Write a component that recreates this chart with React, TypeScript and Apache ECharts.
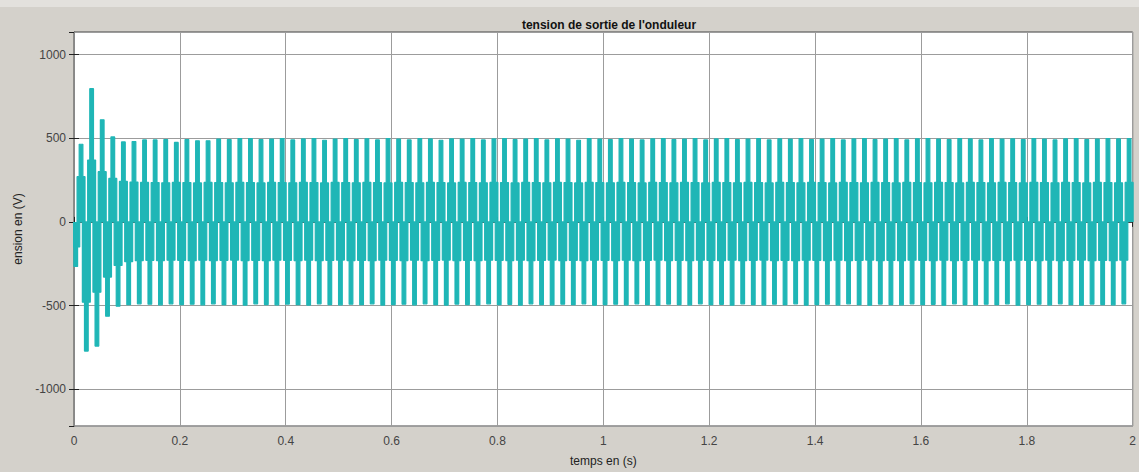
import React, { useEffect, useRef } from "react";
import * as echarts from "echarts";

// Waveform: one positive and one negative pulse per 50 Hz cycle
const period = 0.02; // s
const posCenterStart = 0.0133; // s, centre of first positive pulse
const negCenterStart = 0.0033; // s, centre of first negative pulse

const posPeaks = [
  464, 796, 610, 508, 478, 480, 490, 490, 492, 475,
  492, 485, 485, 495, 492, 498, 498, 492, 495, 498,
  490, 496, 498, 488, 495, 498, 492, 497, 490, 498,
  495, 490, 498, 496, 488, 497, 495, 498, 490, 496,
  498, 492, 495, 498, 490, 497, 495, 488, 498, 495,
  492, 498, 495, 490, 497, 498, 492, 495, 498, 490,
  496, 498, 492, 495, 498, 490, 497, 495, 498, 492,
  495, 498, 490, 496, 498, 492, 495, 498, 490, 497,
  498, 495, 492, 498, 496, 490, 498, 495, 497, 492,
  498, 495, 490, 497, 498, 492, 495, 498, 496, 498,
];
const posInner = [
  270, 370, 300, 260, 242, 238, 236, 235, 234, 236,
  235, 233, 236, 235, 234, 236, 235, 233, 236, 235,
  234, 236, 235, 233, 236, 235, 234, 236, 235, 233,
  236, 235, 234, 236, 235, 233, 236, 235, 234, 236,
  235, 233, 236, 235, 234, 236, 235, 233, 236, 235,
  234, 236, 235, 233, 236, 235, 234, 236, 235, 233,
  236, 235, 234, 236, 235, 233, 236, 235, 234, 236,
  235, 233, 236, 235, 234, 236, 235, 233, 236, 235,
  234, 236, 235, 233, 236, 235, 234, 236, 235, 233,
  236, 235, 234, 236, 235, 233, 236, 235, 234, 236,
];
const negPeaks = [
  -266, -772, -742, -564, -504, -495, -490, -492, -496, -490,
  -494, -492, -496, -490, -495, -493, -497, -490, -494, -496,
  -491, -495, -497, -490, -494, -496, -492, -495, -490, -497,
  -494, -492, -496, -490, -495, -497, -491, -494, -496, -490,
  -495, -493, -497, -490, -494, -496, -492, -495, -490, -497,
  -494, -492, -496, -490, -495, -497, -491, -494, -496, -490,
  -495, -493, -497, -490, -494, -496, -492, -495, -490, -497,
  -494, -492, -496, -490, -495, -497, -491, -494, -496, -490,
  -495, -493, -497, -490, -494, -496, -492, -495, -490, -497,
  -494, -492, -496, -490, -495, -497, -491, -494, -496, -490,
];
const negInner = [
  -150, -480, -420, -330, -260, -238, -232, -230, -231, -229,
  -230, -232, -229, -231, -230, -228, -231, -230, -232, -229,
  -230, -231, -229, -232, -230, -228, -231, -230, -232, -229,
  -230, -231, -229, -232, -230, -228, -231, -230, -232, -229,
  -230, -231, -229, -232, -230, -228, -231, -230, -232, -229,
  -230, -231, -229, -232, -230, -228, -231, -230, -232, -229,
  -230, -231, -229, -232, -230, -228, -231, -230, -232, -229,
  -230, -231, -229, -232, -230, -228, -231, -230, -232, -229,
  -230, -231, -229, -232, -230, -228, -231, -230, -232, -229,
  -230, -231, -229, -232, -230, -228, -231, -230, -232, -229,
];

const xTickLabels = ["0", "0.2", "0.4", "0.6", "0.8", "1", "1.2", "1.4", "1.6", "1.8", "2"];
const yTickLabels: Record<string, string> = { "-1000": "-1000", "-500": "-500", "0": "0", "500": "500", "1000": "1000" };

const CYAN = "#1fb6b6";
const FONT = "Liberation Sans, Arial, sans-serif";

function buildPulses(start: number, peaks: number[], inners: number[]) {
  const wide = 0.0075;
  const narrow = 0.0035;
  const pts: number[][] = [];
  for (let k = 0; k < peaks.length; k++) {
    const c = start + k * period;
    const p = peaks[k];
    const q = inners[k];
    pts.push([c - wide, 0], [c - wide, q], [c - narrow, q], [c - narrow, p]);
    pts.push([c + narrow, p], [c + narrow, q], [c + wide, q], [c + wide, 0]);
  }
  return pts;
}

export default function App() {
  const ref = useRef<HTMLDivElement>(null);
  useEffect(() => {
    document.body.style.margin = "0";
    if (!ref.current) return;
    const chart = echarts.init(ref.current, null, { renderer: "svg" });
    const posData = buildPulses(posCenterStart, posPeaks, posInner);
    const negData = buildPulses(negCenterStart, negPeaks, negInner);
    const labelStyle = { color: "#444", fontSize: 12, fontFamily: FONT };
    chart.setOption({
      animation: false,
      backgroundColor: "#d4d1cb",
      graphic: [
        {
          type: "rect",
          shape: { x: 0, y: 0, width: 1139, height: 7 },
          style: { fill: "#e3e1dd" },
          silent: true,
          z: -10,
        },
      ],
      title: {
        text: "tension de sortie de l'onduleur",
        left: 604,
        top: 14,
        textAlign: "center",
        textStyle: { fontSize: 12, fontWeight: "bold", color: "#111", fontFamily: FONT },
      },
      grid: {
        left: 74,
        right: 5,
        top: 32,
        bottom: 46,
        show: true,
        backgroundColor: "#ffffff",
        borderColor: "#444",
        borderWidth: 1,
      },
      xAxis: [
        {
          type: "value",
          min: 0,
          max: 2,
          interval: 0.2,
          position: "bottom",
          name: "temps en (s)",
          nameLocation: "middle",
          nameGap: 29,
          nameTextStyle: { ...labelStyle, color: "#222" },
          axisLine: { show: true, lineStyle: { color: "#444" } },
          axisTick: { show: true, inside: true, length: 5, lineStyle: { color: "#222" } },
          axisLabel: {
            ...labelStyle,
            margin: 9,
            formatter: (v: number) => xTickLabels[Math.round(v / 0.2)] ?? "",
          },
          splitLine: { show: true, lineStyle: { color: "#9c9c9c", width: 1 } },
        },
        {
          type: "value",
          min: 0,
          max: 2,
          interval: 0.2,
          position: "top",
          axisLine: { show: true, lineStyle: { color: "#444" } },
          axisTick: { show: true, inside: true, length: 5, lineStyle: { color: "#222" } },
          axisLabel: { show: false },
          splitLine: { show: false },
        },
      ],
      yAxis: [
        {
          type: "value",
          min: -1220,
          max: 1135,
          splitNumber: 5,
          position: "left",
          name: "ension en (V)",
          nameLocation: "middle",
          nameGap: 37,
          nameTextStyle: { ...labelStyle, color: "#222" },
          axisLine: { show: true, lineStyle: { color: "#444" } },
          axisTick: { show: true, inside: true, length: 5, lineStyle: { color: "#222" } },
          axisLabel: {
            ...labelStyle,
            margin: 8,
            showMinLabel: false,
            showMaxLabel: false,
            formatter: (v: number) => yTickLabels[String(Math.round(v))] ?? "",
          },
          splitLine: { show: true, lineStyle: { color: "#9c9c9c", width: 1 } },
        },
        {
          type: "value",
          min: -1220,
          max: 1135,
          splitNumber: 5,
          position: "right",
          axisLine: { show: true, lineStyle: { color: "#888" } },
          axisTick: { show: true, inside: true, length: 5, lineStyle: { color: "#222" } },
          axisLabel: { show: false },
          splitLine: { show: false },
        },
      ],
      series: [
        {
          type: "line",
          data: posData,
          showSymbol: false,
          silent: true,
          lineStyle: { color: CYAN, width: 1.2 },
          areaStyle: { color: CYAN, opacity: 1 },
          z: 3,
        },
        {
          type: "line",
          data: negData,
          showSymbol: false,
          silent: true,
          lineStyle: { color: CYAN, width: 1.2 },
          areaStyle: { color: CYAN, opacity: 1 },
          z: 3,
        },
      ],
    });
    return () => chart.dispose();
  }, []);
  return <div ref={ref} style={{ width: 1139, height: 472 }} />;
}
